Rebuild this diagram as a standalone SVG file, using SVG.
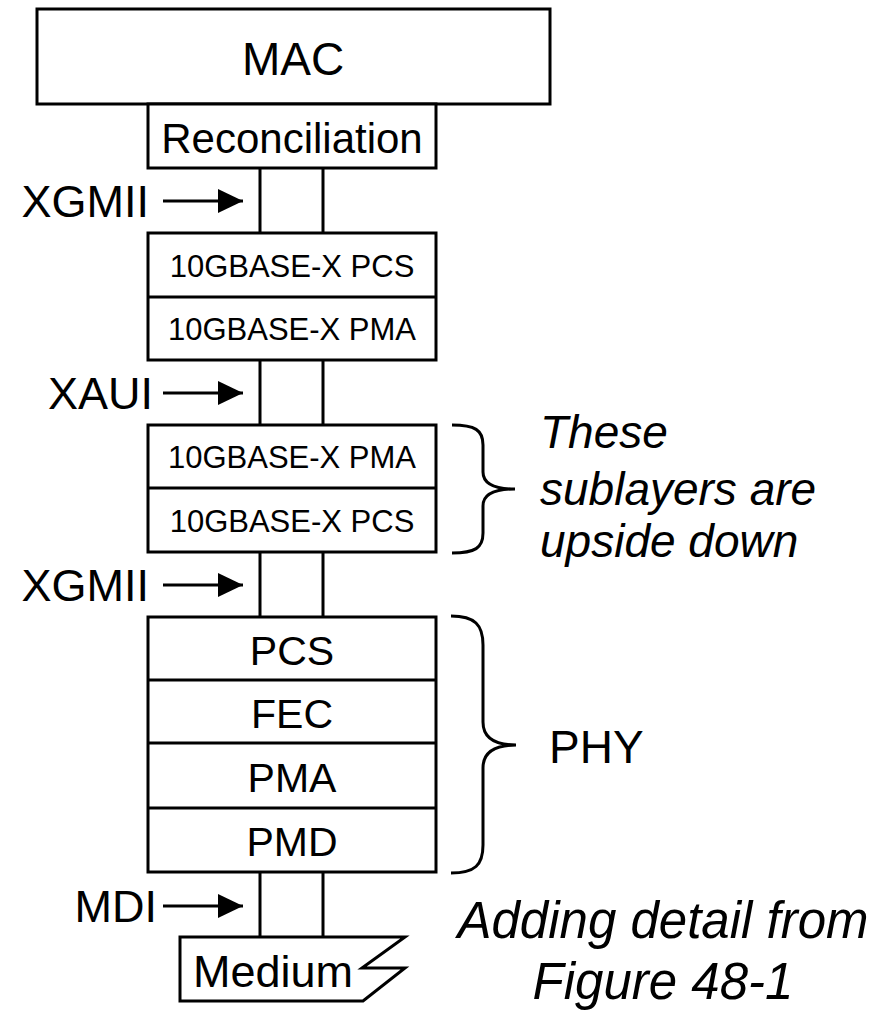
<svg xmlns="http://www.w3.org/2000/svg" width="892" height="1014" viewBox="0 0 892 1014">
  <style>
    .box { fill: #fff; stroke: #000; stroke-width: 3; }
    .ln { fill: none; stroke: #000; stroke-width: 3; }
    .t { font-family: "Liberation Sans", Arial, sans-serif; fill: #000; }
    .c { text-anchor: middle; }
    .e { text-anchor: end; }
    .i { font-style: italic; }
  </style>
  <defs>
    <marker id="arrow" viewBox="0 0 25 24" refX="25" refY="12" markerWidth="25" markerHeight="24" markerUnits="userSpaceOnUse" orient="auto">
      <path d="M0,0 L25,12 L0,24 Z" fill="#000"/>
    </marker>
  </defs>

  <rect width="892" height="1014" fill="#fff"/>

  <!-- connectors: paired lines between sublayers and interface arrows -->
  <g id="connectors">
    <path class="ln" d="M260,168 V233 M323,168 V233"/>
    <path class="ln" d="M260,360 V425 M323,360 V425"/>
    <path class="ln" d="M260,552 V617 M323,552 V617"/>
    <path class="ln" d="M260,872 V937 M323,872 V937"/>
    <line class="ln" x1="163" y1="201" x2="243" y2="201" marker-end="url(#arrow)"/>
    <line class="ln" x1="163" y1="393" x2="243" y2="393" marker-end="url(#arrow)"/>
    <line class="ln" x1="163" y1="585" x2="243" y2="585" marker-end="url(#arrow)"/>
    <line class="ln" x1="163" y1="906" x2="243" y2="906" marker-end="url(#arrow)"/>
  </g>

  <g id="mac">
    <rect class="box" x="37" y="9" width="513" height="95"/>
    <text class="t c" x="293" y="75" font-size="46">MAC</text>
  </g>

  <g id="reconciliation">
    <rect class="box" x="148" y="104" width="288" height="64"/>
    <text class="t c" x="292" y="153" font-size="42">Reconciliation</text>
  </g>

  <g id="xgxs-upper">
    <rect class="box" x="148" y="233" width="288" height="127"/>
    <line class="ln" x1="148" y1="297" x2="436" y2="297"/>
    <text class="t c" x="292" y="277" font-size="31">10GBASE-X PCS</text>
    <text class="t c" x="292" y="340" font-size="31">10GBASE-X PMA</text>
  </g>

  <g id="xgxs-lower">
    <rect class="box" x="148" y="425" width="288" height="127"/>
    <line class="ln" x1="148" y1="488" x2="436" y2="488"/>
    <text class="t c" x="292" y="468" font-size="31">10GBASE-X PMA</text>
    <text class="t c" x="292" y="532" font-size="31">10GBASE-X PCS</text>
  </g>

  <g id="phy">
    <rect class="box" x="148" y="617" width="288" height="255"/>
    <path class="ln" d="M148,680 H436 M148,743 H436 M148,808 H436"/>
    <text class="t c" x="292" y="665" font-size="41">PCS</text>
    <text class="t c" x="292" y="728" font-size="41">FEC</text>
    <text class="t c" x="292" y="792" font-size="41">PMA</text>
    <text class="t c" x="292" y="856" font-size="41">PMD</text>
  </g>

  <g id="medium">
    <path class="box" d="M180,937 H405 L362,968 H405 L363,1001 H180 Z"/>
    <text class="t" x="193" y="987" font-size="45">Medium</text>
  </g>

  <g id="interface-labels">
    <text class="t e" x="149" y="217" font-size="45">XGMII</text>
    <text class="t e" x="153" y="409" font-size="45">XAUI</text>
    <text class="t e" x="149" y="601" font-size="45">XGMII</text>
    <text class="t e" x="157" y="922" font-size="45">MDI</text>
  </g>

  <g id="brace-xgxs">
    <path class="ln" d="M452,425 C475,425 483,430 483,445 L483,472 C483,484 495,489 515,489 C495,489 483,494 483,506 L483,533 C483,548 475,553 452,553"/>
    <text class="t i" x="540" y="448" font-size="46">These</text>
    <text class="t i" x="540" y="505" font-size="46">sublayers are</text>
    <text class="t i" x="540" y="557" font-size="46">upside down</text>
  </g>

  <g id="brace-phy">
    <path class="ln" d="M451,616 C475,616 483,625 483,645 L483,722 C483,738 495,745 516,745 C495,745 483,752 483,768 L483,845 C483,865 475,873 451,873"/>
    <text class="t" x="549" y="763" font-size="46">PHY</text>
  </g>

  <g id="caption">
    <text class="t i c" x="663" y="938" font-size="51">Adding detail from</text>
    <text class="t i c" x="663" y="999" font-size="51">Figure 48-1</text>
  </g>
</svg>
